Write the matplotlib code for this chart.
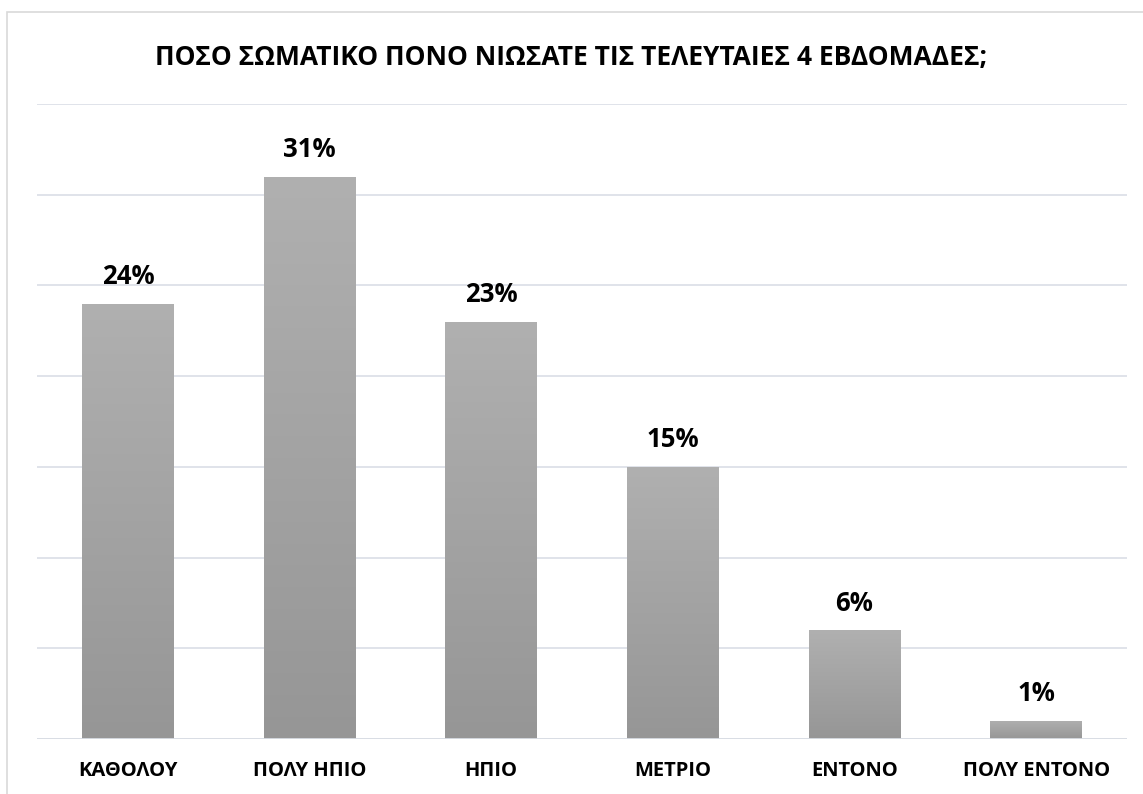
import matplotlib.pyplot as plt
import numpy as np
from matplotlib.patches import Rectangle
from matplotlib.colors import LinearSegmentedColormap

categories = ['ΚΑΘΟΛΟΥ', 'ΠΟΛΥ ΗΠΙΟ', 'ΗΠΙΟ', 'ΜΕΤΡΙΟ', 'ΕΝΤΟΝΟ', 'ΠΟΛΥ ΕΝΤΟΝΟ']
values = [24, 31, 23, 15, 6, 1]
title = 'ΠΟΣΟ ΣΩΜΑΤΙΚΟ ΠΟΝΟ ΝΙΩΣΑΤΕ ΤΙΣ ΤΕΛΕΥΤΑΙΕΣ 4 ΕΒΔΟΜΑΔΕΣ;'

plt.rcParams['font.family'] = ['Open Sans', 'DejaVu Sans']

fig = plt.figure(figsize=(11.43, 7.94), dpi=100)
ax = fig.add_axes([0.0324, 0.0693, 0.9536, 0.7997])

# outer chart frame (cut off on the right and bottom)
fig.patches.append(Rectangle((7 / 1143, -0.05), 1.2, 1 - 12 / 794 + 0.05,
                             transform=fig.transFigure, fill=False,
                             edgecolor='#d9d9d9', linewidth=1.2))

ax.set_yticks(np.arange(0, 36, 5))
ax.yaxis.grid(True, color='#dde1e8', linewidth=1.3)
ax.set_axisbelow(True)
for s in ax.spines.values():
    s.set_visible(False)
ax.tick_params(left=False, labelleft=False, bottom=False)

# vertical gradient: lighter at the top, darker at the bottom
grad = np.linspace(0, 1, 256).reshape(-1, 1)
cmap = LinearSegmentedColormap.from_list('g', ['#969696', '#b0b0b0'])
width = 0.505
bars = ax.bar(range(len(values)), values, width=width, color='none', zorder=2)
for b, v in zip(bars, values):
    x0 = b.get_x()
    im = ax.imshow(grad, extent=[x0, x0 + width, 0, v], origin='lower',
                   aspect='auto', cmap=cmap, zorder=2)
    im.set_clip_path(b)
    ax.annotate(f'{v}%', (b.get_x() + width / 2, v), xytext=(0, 19.5),
                textcoords='offset points', ha='center', va='center',
                fontsize=18.5, fontweight='bold', color='black')

ax.set_xlim(-0.5, len(categories) - 0.5)
ax.set_ylim(0, 35)
ax.set_xticks(range(len(categories)))
ax.set_xticklabels(categories, fontsize=14.5, fontweight='bold')
ax.tick_params(axis='x', pad=12)
ax.axhline(0, color='#d9dde4', linewidth=1.3, zorder=3)

fig.text(0.5, 1 - 57 / 794, title, ha='center', va='center',
         fontsize=19, fontweight='bold')

fig.savefig('out.png', dpi=100)
